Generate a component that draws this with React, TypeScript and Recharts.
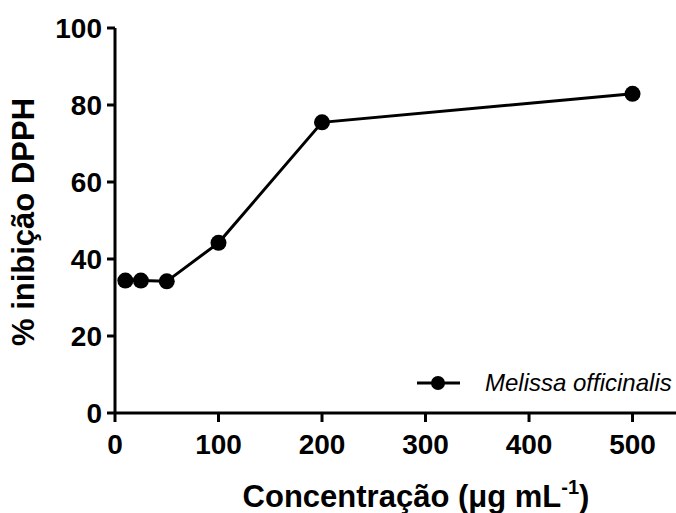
import { LineChart, Line, XAxis, YAxis, Legend, Label } from "recharts";

const concentrations = [10, 25, 50, 100, 200, 500];
const inhibition = [34.4, 34.4, 34.2, 44.2, 75.5, 82.9];
const xTicks = [0, 100, 200, 300, 400, 500];
const yTicks = [0, 20, 40, 60, 80, 100];
const seriesName = "Melissa officinalis";

const data = concentrations.map((c, i) => ({ conc: c, value: inhibition[i] }));

const FONT = '"Liberation Sans", Arial, Helvetica, sans-serif';

const renderLegend = () => (
  <div style={{ display: "flex", alignItems: "center", fontFamily: FONT }}>
    <svg width={43} height={16}>
      <line x1={0} y1={8} x2={43} y2={8} stroke="#000" strokeWidth={3} />
      <circle cx={21} cy={8} r={7} fill="#000" />
    </svg>
    <span style={{ marginLeft: 25, fontSize: 24, fontStyle: "italic", lineHeight: 1, color: "#000" }}>
      {seriesName}
    </span>
  </div>
);

const XTitle = () => (
  <text x={416} y={507} textAnchor="middle" fontFamily={FONT} fontWeight="bold" fontSize={31} fill="#000">
    Concentração (μg mL
    <tspan fontSize={20} dy={-13}>-1</tspan>
    <tspan dy={13}>)</tspan>
  </text>
);

const YTitle = () => (
  <text
    x={34}
    y={222}
    transform="rotate(-90 34 222)"
    textAnchor="middle"
    fontFamily={FONT}
    fontWeight="bold"
    fontSize={31}
    fill="#000"
  >
    % inibição DPPH
  </text>
);

export default function App() {
  return (
    <div style={{ position: "absolute", left: 0, top: 0 }}>
      <LineChart width={676} height={513} data={data} margin={{ top: 28, right: 0, bottom: 0, left: 0 }}>
        <XAxis
          dataKey="conc"
          type="number"
          domain={[0, 542]}
          ticks={xTicks}
          height={100}
          stroke="#000"
          strokeWidth={3}
          tickSize={9}
          tickMargin={12}
          tick={{ fill: "#000", fontSize: 28, fontWeight: "bold", fontFamily: FONT }}
          tickLine={{ stroke: "#000", strokeWidth: 3 }}
        >
          <Label content={<XTitle />} />
        </XAxis>
        <YAxis
          type="number"
          domain={[0, 100]}
          ticks={yTicks}
          width={115}
          stroke="#000"
          strokeWidth={3}
          tickSize={8}
          tickMargin={5}
          tick={{ fill: "#000", fontSize: 28, fontWeight: "bold", fontFamily: FONT }}
          tickLine={{ stroke: "#000", strokeWidth: 3 }}
        >
          <Label content={<YTitle />} />
        </YAxis>
        <Legend
          layout="horizontal"
          verticalAlign="middle"
          align="center"
          content={renderLegend}
          wrapperStyle={{ left: 417, top: 371, width: "auto" }}
        />
        <Line
          dataKey="value"
          name={seriesName}
          stroke="#000"
          strokeWidth={3}
          dot={{ r: 8, fill: "#000", stroke: "#000", strokeWidth: 0 }}
          activeDot={false}
          isAnimationActive={false}
        />
      </LineChart>
    </div>
  );
}
